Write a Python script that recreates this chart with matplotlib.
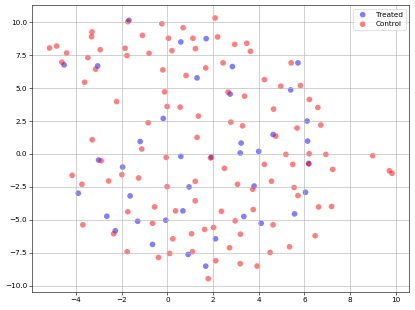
import matplotlib
matplotlib.use('Agg')
import matplotlib.pyplot as plt

# points
treated_x = [-4.52, -3.05, -1.68, -1.19, -0.18, 0.59, 0.59, 1.70, 1.30, 1.93,
             2.85, 5.72, 5.40, 2.75, 6.12, 4.63, 3.23, 6.14, 3.19, 4.00,
             -3.01, -1.96, -3.90, -1.63, 0.95, 0.68, -2.65, -1.30, -0.07, -2.28,
             -0.65, 0.91, 1.68, 6.19, 3.80, 6.05, 5.57, 3.35, 4.11, 2.11]
treated_y = [6.77, 6.69, 10.15, 0.95, 2.70, -0.18, 8.51, 8.76, 5.78, -0.23,
             6.64, 6.92, 4.87, 4.55, 2.50, 1.48, 0.83, 0.98, 0.08, 0.20,
             -0.46, -0.99, -2.98, -3.18, -2.50, -4.32, -4.73, -5.11, -5.03, -5.83,
             -6.87, -7.63, -8.52, -0.71, -2.43, -2.91, -4.55, -4.75, -5.26, -6.44]

control_x = [-5.16, -4.85, -4.41, -4.62, -3.30, -3.32, -2.94, -3.48, -3.14, -3.62,
             -2.22, -3.29, -1.73, -1.85, -1.77, -1.09, -0.80, -0.84, -1.12, -0.24,
             0.05, 0.20, -0.20, -0.12, -0.01, -0.05, 0.69, 1.12, 1.23, 1.68,
             0.82, 0.56, 1.36, 1.30, 1.89,
             2.09, 2.20, 2.95, 3.48, 3.64, 2.44, 5.42, 4.25, 4.97, 5.83,
             2.66, 3.38, 6.22, 6.59, 4.65, 2.78, 3.29, 6.72, 5.68, 4.75,
             5.19, 6.21, 6.94, 8.99,
             -2.90, -1.99, -4.17, -2.57, -1.26, -3.74, -0.01, 1.22, 1.22, -0.56,
             -1.73, 0.36, -0.65, -3.70, -2.35, 0.24, 1.06, 1.63, -1.76, -0.39,
             0.10, 1.10, 1.79,
             2.50, 4.25, 5.49, 6.19, 7.24, 9.72, 9.84, 3.07, 3.74, 4.56,
             5.55, 5.72, 2.37, 3.76, 6.62, 7.19, 2.97, 4.63, 2.02, 3.20,
             6.47, 2.72, 5.35, 4.50, 2.12, 3.19, 3.93]
control_y = [8.05, 8.20, 7.67, 6.97, 9.27, 8.91, 7.92, 7.32, 6.44, 5.45,
             3.98, 1.08, 10.05, 8.03, 7.47, 9.01, 7.65, 2.37, 0.38, 9.89,
             8.79, 7.85, 6.39, 4.72, 3.61, -0.26, 9.59, 8.79, 8.00, 6.54,
             5.96, 3.56, 2.88, 1.26, -0.30,
             10.33, 8.89, 8.33, 8.41, 7.80, 6.92, 6.92, 5.65, 5.15, 5.20,
             4.70, 4.39, 4.14, 3.53, 3.41, 2.42, 2.14, 2.20, 1.97, 1.36,
             -0.03, 0.02, -0.03, -0.13,
             -0.51, -1.57, -1.62, -2.05, -1.82, -2.30, -2.48, -2.08, -3.56, -4.02,
             -4.39, -4.32, -5.26, -5.38, -6.06, -6.44, -6.06, -5.73, -7.42, -7.86,
             -7.55, -7.42, -9.47,
             -1.09, -0.79, -0.79, -0.76, -1.17, -1.27, -1.47, -2.30, -2.68, -2.07,
             -2.55, -3.16, -4.35, -4.22, -4.02, -3.99, -5.08, -5.38, -5.58, -6.09,
             -6.21, -7.12, -7.05, -7.48, -8.11, -8.33, -8.51]

fig, ax = plt.subplots(figsize=(415/52, 310/52), dpi=52)
ax.scatter(treated_x, treated_y, c='blue', alpha=0.5, s=62, edgecolors='none', label='Treated')
ax.scatter(control_x, control_y, c='red', alpha=0.5, s=62, edgecolors='none', label='Control')
ax.set_yticks([-10, -7.5, -5, -2.5, 0, 2.5, 5, 7.5, 10])
ax.legend(loc='upper right')
ax.grid(True)
fig.subplots_adjust(left=0.078, right=0.986, top=0.984, bottom=0.059)
plt.savefig('out.png', dpi=52)
